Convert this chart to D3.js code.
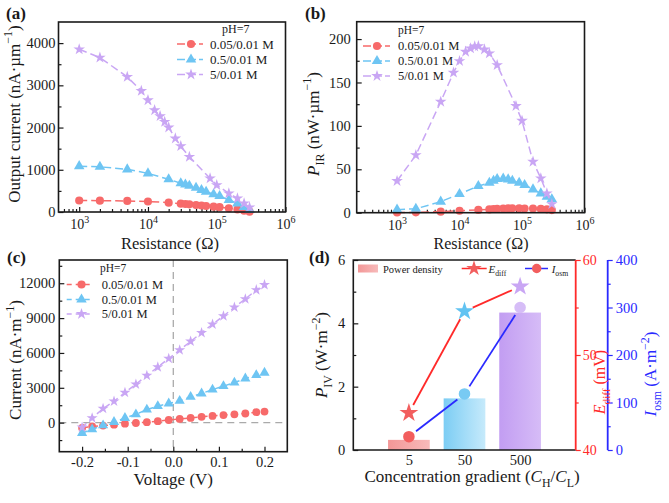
<!DOCTYPE html>
<html><head><meta charset="utf-8">
<script src="https://cdn.jsdelivr.net/npm/d3@7"></script>
<style>body{margin:0;background:#fff}svg{display:block}</style>
</head><body><svg id="chart" width="669" height="503"></svg>
<script>
// ---------------- DATA ----------------
const seriesNames = ["0.05/0.01 M", "0.5/0.01 M", "5/0.01 M"];
const seriesColors = ["#f76a6a", "#6ec5f3", "#c9a6f4"];
const seriesSymbols = ["circle", "triangle", "star"];
// panel (a) & (b): resistance (Ohm)
const resRB = [1000,2000,5000,10000,20000,30000,35000,40000,50000,60000,70000,90000,110000,150000,200000,250000,300000];
const resP  = [1000,2000,5000,8000,10000,12500,15000,17500,20000,25000,30000,40000,80000,100000,150000,200000,250000,300000];
// (a) output current nA/um
const curRed    = [272,268,262,248,222,198,190,181,167,155,142,127,115,88,62,31,8];
const curBlue   = [1085,1070,1010,915,775,680,650,620,575,520,480,420,380,285,205,120,50];
const curPurple = [3853,3657,3200,2868,2648,2411,2270,2135,2002,1742,1560,1307,797,638,442,324,206,111];
// (b) power nW/um
const powRed    = [0.2,0.4,1.2,2.3,3.2,3.8,4.2,4.5,4.8,5.0,5.0,5.0,4.9,4.7,4.4,3.9,3.0];
const powBlue   = [3.5,4.5,12.7,21.5,30.7,34.5,36.8,38.8,39.2,38.4,36.8,34.5,31.9,26.9,22.3,18.5,15.4];
const powPurple = [36.5,66.4,127.8,161.3,174.7,185.4,189.3,191.5,191.9,188,183.5,170,122.9,105.9,58.7,39.6,22.3,10];
// (c) I-V
const volt = [-0.2,-0.178,-0.154,-0.13,-0.106,-0.082,-0.058,-0.034,-0.01,0.014,0.038,0.062,0.086,0.11,0.134,0.158,0.182,0.2];
const ivRed    = [-450,-330,-250,-170,-90,-30,40,130,230,320,410,500,580,650,720,790,900,950];
const ivBlue   = [-890,-575,-230,60,400,720,1120,1420,1650,1870,2220,2510,2850,3140,3450,3800,4100,4300];
const ivPurple = [-400,403,1209,1842,2590,3309,4058,4777,5525,6245,6993,7741,8460,9180,9928,10647,11424,11856];
// (d)
const gradients = ["5", "50", "500"];
const powerDensity = [0.32, 1.63, 4.34];
const ediff = [43.9, 54.6, 57.2];
const iosm = [28, 118, 300];
const dColors = ["#f25e5e", "#62c3f2", "#c9a6f4"];
const dCircleColors = ["#f25e5e", "#78caf3", "#d6bdf7"];

// ---------------- HELPERS ----------------
const FONT = "'Liberation Serif','Times New Roman',serif";
const INK = "#1a1a1a";
const svg = d3.select("#chart");
svg.append("rect").attr("width",669).attr("height",503).attr("fill","#fff");
const defs = svg.append("defs");

function sym(type, size){
  const t = type==="circle"?d3.symbolCircle:type==="triangle"?d3.symbolTriangle:d3.symbolStar;
  return d3.symbol().type(t).size(size)();
}
function rich(textSel, parts, fs){
  let cur = 0;
  parts.forEach(p=>{
    const want = p.sub ? fs*0.3 : p.sup ? -fs*0.42 : 0;
    const ts = textSel.append("tspan").text(p.t);
    if (want !== cur) ts.attr("dy", want - cur);
    cur = want;
    if (p.sub || p.sup) ts.attr("font-size", fs*0.7);
    if (p.i) ts.attr("font-style","italic");
  });
  return textSel;
}
function label(g, x, y, parts, fs, opts={}){
  const t = g.append("text").attr("x",x).attr("y",y).attr("font-family",FONT)
    .attr("font-size",fs).attr("fill",opts.fill||INK).attr("text-anchor",opts.anchor||"middle");
  if (opts.bold) t.attr("font-weight","bold");
  if (opts.rotate) t.attr("transform",`rotate(-90,${x},${y})`);
  return rich(t, parts, fs);
}
function styleAxis(sel, color=INK, fs=14.5){
  sel.select(".domain").remove();
  sel.selectAll("line").attr("stroke",color).attr("stroke-width",1.2);
  sel.selectAll("text").attr("font-size",fs).attr("fill",color).attr("font-family",FONT);
}
function frame(g, x0,x1,y0,y1){
  g.append("rect").attr("x",x0).attr("y",y0).attr("width",x1-x0).attr("height",y1-y0)
   .attr("fill","none").attr("stroke",INK).attr("stroke-width",1.6);
}
function drawSeries(g, xs, ys, X, Y, color, symbol, size, dash){
  const line = d3.line().x((d,i)=>xs(X[i])).y(d=>ys(d));
  g.append("path").attr("d", line(Y)).attr("fill","none").attr("stroke",color)
    .attr("stroke-width",1.5).attr("stroke-dasharray",dash);
  g.selectAll(null).data(Y).enter().append("path")
    .attr("d", sym(symbol,size)).attr("fill",color)
    .attr("transform",(d,i)=>`translate(${xs(X[i])},${ys(d)})`);
}
function legend(g, x0, x1, xm, xt, rows, ph, fs, sizes, dash){
  g.append("text").attr("x",ph[0]).attr("y",ph[1]).attr("font-family",FONT).attr("font-size",fs-1)
   .attr("fill",INK).text("pH=7");
  rows.forEach((yy,i)=>{
    g.append("line").attr("x1",x0).attr("x2",x1).attr("y1",yy).attr("y2",yy)
     .attr("stroke",seriesColors[i]).attr("stroke-width",1.5).attr("stroke-dasharray",dash);
    g.append("path").attr("d",sym(seriesSymbols[i],sizes[i])).attr("fill",seriesColors[i])
     .attr("transform",`translate(${xm},${yy})`);
    g.append("text").attr("x",xt).attr("y",yy+fs*0.35).attr("font-family",FONT).attr("font-size",fs)
     .attr("fill",INK).text(seriesNames[i]);
  });
}
function logXAxis(g, xs, y1, dom){
  const majors = [1e3,1e4,1e5,1e6];
  const minors = [];
  for (let d=2; d<=5; d++) for (let k=2;k<=9;k++){ const v=k*Math.pow(10,d); if(v>dom[0]&&v<dom[1]) minors.push(v); }
  const ax = g.append("g").attr("transform",`translate(0,${y1})`)
    .call(d3.axisBottom(xs).tickValues(majors).tickSize(-5).tickPadding(7).tickFormat(()=>""));
  styleAxis(ax, INK, 14);
  ax.selectAll(".tick text").each(function(d){
    const t=d3.select(this);
    t.append("tspan").text("10");
    t.append("tspan").attr("dy",-6).attr("font-size",10).text(Math.round(Math.log10(d)));
  });
  const mi = g.append("g").attr("transform",`translate(0,${y1})`)
    .call(d3.axisBottom(xs).tickValues(minors).tickSize(-3).tickFormat(()=>""));
  styleAxis(mi);
}
function yAxisLin(g, ys, x0, majors, minors, pad, color=INK, fmt=d3.format("d")){
  const ax = g.append("g").attr("transform",`translate(${x0},0)`)
    .call(d3.axisLeft(ys).tickValues(majors).tickSize(-5).tickPadding(pad).tickFormat(fmt));
  styleAxis(ax,color);
  const mi = g.append("g").attr("transform",`translate(${x0},0)`)
    .call(d3.axisLeft(ys).tickValues(minors).tickSize(-3).tickFormat(()=>""));
  styleAxis(mi,color);
}

// ---------------- PANEL (a) ----------------
{
  const g = svg.append("g");
  const x0=58.5,x1=285.5,y0=22,y1=212;
  const xs = d3.scaleLog().domain([500,1e6]).range([x0,x1]);
  const ys = d3.scaleLinear().domain([0,4500]).range([y1,y0]);
  logXAxis(g, xs, y1, xs.domain());
  yAxisLin(g, ys, x0, d3.range(0,4001,1000), d3.range(500,4500,1000), 3);
  drawSeries(g, xs, ys, resRB, curRed, seriesColors[0], "circle", 52, "8,4");
  drawSeries(g, xs, ys, resRB, curBlue, seriesColors[1], "triangle", 48, "8,4");
  drawSeries(g, xs, ys, resP, curPurple, seriesColors[2], "star", 42, "8,4");
  frame(g,x0,x1,y0,y1);
  legend(g, 177, 203, 191, 210, [44,59.5,74.5], [222,32.5], 13, [52,48,42], "8,3");
  label(g, 19.5, 114, [{t:"Output current (nA·µm"},{t:"−1",sup:1},{t:")"}], 17, {rotate:1});
  label(g, 170, 249, [{t:"Resistance (Ω)"}], 16.5);
  label(g, 6, 19, [{t:"(a)"}], 17, {anchor:"start", bold:1});
}
// ---------------- PANEL (b) ----------------
{
  const g = svg.append("g");
  const x0=356.7,x1=584.5,y0=21.7,y1=212.7;
  const xs = d3.scaleLog().domain([226,1e6]).range([x0,x1]);
  const ys = d3.scaleLinear().domain([0,220]).range([y1,y0]);
  logXAxis(g, xs, y1, xs.domain());
  yAxisLin(g, ys, x0, d3.range(0,201,50), d3.range(25,220,50), 6);
  drawSeries(g, xs, ys, resRB, powRed, seriesColors[0], "circle", 52, "8,4");
  drawSeries(g, xs, ys, resRB, powBlue, seriesColors[1], "triangle", 48, "8,4");
  drawSeries(g, xs, ys, resP, powPurple, seriesColors[2], "star", 42, "8,4");
  frame(g,x0,x1,y0,y1);
  legend(g, 363, 390, 377, 398, [46,61,76], [398,34], 12.5, [52,48,42], "8,3");
  label(g, 318.5, 124, [{t:"P",i:1},{t:"IR",sub:1},{t:" (nW·µm"},{t:"−1",sup:1},{t:")"}], 17, {rotate:1});
  label(g, 481, 249, [{t:"Resistance (Ω)"}], 16);
  label(g, 305, 19, [{t:"(b)"}], 17, {anchor:"start", bold:1});
}
// ---------------- PANEL (c) ----------------
{
  const g = svg.append("g");
  const x0=59.3,x1=287.3,y0=260,y1=451.7;
  const xs = d3.scaleLinear().domain([-0.25,0.25]).range([x0,x1]);
  const ys = d3.scaleLinear().domain([-2500,14000]).range([y1,y0]);
  g.append("line").attr("x1",xs(0)).attr("x2",xs(0)).attr("y1",y0).attr("y2",y1)
    .attr("stroke","#aaa").attr("stroke-width",1.3).attr("stroke-dasharray","7,5");
  g.append("line").attr("x1",x0).attr("x2",x1).attr("y1",ys(0)).attr("y2",ys(0))
    .attr("stroke","#aaa").attr("stroke-width",1.3).attr("stroke-dasharray","7,5");
  const ax = g.append("g").attr("transform",`translate(0,${y1})`)
    .call(d3.axisBottom(xs).tickValues([-0.2,-0.1,0,0.1,0.2]).tickSize(-5).tickPadding(5).tickFormat(d=>d.toFixed(1)));
  styleAxis(ax);
  const axm = g.append("g").attr("transform",`translate(0,${y1})`)
    .call(d3.axisBottom(xs).tickValues([-0.15,-0.05,0.05,0.15]).tickSize(-3).tickFormat(()=>""));
  styleAxis(axm);
  yAxisLin(g, ys, x0, d3.range(0,12001,3000), d3.range(-1500,14000,3000), 4);
  drawSeries(g, xs, ys, volt, ivRed, seriesColors[0], "circle", 48, "6,4");
  drawSeries(g, xs, ys, volt, ivBlue, seriesColors[1], "triangle", 45, "6,4");
  drawSeries(g, xs, ys, volt, ivPurple, seriesColors[2], "star", 38, "6,4");
  frame(g,x0,x1,y0,y1);
  legend(g, 66.7, 90, 81.5, 101.7, [284.5,299.5,314], [100,272], 12.5, [52,48,42], "5,4");
  label(g, 21, 360, [{t:"Current (nA·m"},{t:"−1",sup:1},{t:")"}], 17, {rotate:1});
  label(g, 173.3, 485, [{t:"Voltage (V)"}], 17);
  label(g, 7, 263, [{t:"(c)"}], 17, {anchor:"start", bold:1});
}
// ---------------- PANEL (d) ----------------
{
  const g = svg.append("g");
  const x0=353.3,x1=575.7,y0=260,y1=450, xb=607.7;
  const xs = d3.scaleLinear().domain([0,4]).range([x0,x1]);
  const ys = d3.scaleLinear().domain([0,6]).range([y1,y0]);
  const yr = d3.scaleLinear().domain([40,60]).range([y1,y0]);
  const yb = d3.scaleLinear().domain([0,400]).range([y1,y0]);
  const RED="#ff2a2a", BLUE="#2a2aff";
  const grads = [["#f39797","#f7baba"],["#7ccdf4","#c6eafb"],["#c29df2","#d6bcf7"]];
  grads.forEach((c,i)=>{
    const lg = defs.append("linearGradient").attr("id","bg"+i).attr("x1","0").attr("x2","1").attr("y1","0").attr("y2","0");
    lg.append("stop").attr("offset","0").attr("stop-color",c[0]);
    lg.append("stop").attr("offset","1").attr("stop-color",c[1]);
  });
  g.selectAll(null).data(powerDensity).enter().append("rect")
    .attr("x",(d,i)=>xs(i+1-0.375)).attr("width",xs(0.75)-xs(0))
    .attr("y",d=>ys(d)).attr("height",d=>ys(0)-ys(d)).attr("fill",(d,i)=>`url(#bg${i})`);
  function gapLines(vals, sc, color){
    for (let i=0;i<vals.length-1;i++){
      const ax1=xs(i+1), ay1=sc(vals[i]), bx=xs(i+2), by=sc(vals[i+1]);
      const L=Math.hypot(bx-ax1,by-ay1), gp=9, ux=(bx-ax1)/L, uy=(by-ay1)/L;
      g.append("line").attr("x1",ax1+ux*gp).attr("y1",ay1+uy*gp).attr("x2",bx-ux*gp).attr("y2",by-uy*gp)
        .attr("stroke",color).attr("stroke-width",1.8);
    }
  }
  gapLines(ediff, yr, RED);
  gapLines(iosm, yb, BLUE);
  g.selectAll(null).data(iosm).enter().append("path").attr("d",sym("circle",105))
    .attr("fill",(d,i)=>dCircleColors[i]).attr("transform",(d,i)=>`translate(${xs(i+1)},${yb(d)})`);
  g.selectAll(null).data(ediff).enter().append("path").attr("d",sym("star",110))
    .attr("fill",(d,i)=>dColors[i]).attr("transform",(d,i)=>`translate(${xs(i+1)},${yr(d)})`);
  const axb = g.append("g").attr("transform",`translate(0,${y1})`)
    .call(d3.axisBottom(xs).tickValues([1,2,3]).tickSize(0).tickPadding(5).tickFormat((d,i)=>gradients[i]));
  styleAxis(axb);
  yAxisLin(g, ys, x0, [0,2,4,6], [1,3,5], 8);
  const ar = g.append("g").attr("transform",`translate(${x1},0)`)
    .call(d3.axisRight(yr).tickValues([40,50,60]).tickSize(5).tickPadding(2).tickFormat(d3.format("d")));
  styleAxis(ar, RED, 14);
  const arm = g.append("g").attr("transform",`translate(${x1},0)`)
    .call(d3.axisRight(yr).tickValues([45,55]).tickSize(3).tickFormat(()=>""));
  styleAxis(arm, RED);
  const ab = g.append("g").attr("transform",`translate(${xb},0)`)
    .call(d3.axisRight(yb).tickValues([0,100,200,300,400]).tickSize(5).tickPadding(3).tickFormat(d3.format("d")));
  styleAxis(ab, BLUE);
  const abm = g.append("g").attr("transform",`translate(${xb},0)`)
    .call(d3.axisRight(yb).tickValues([50,150,250,350]).tickSize(3).tickFormat(()=>""));
  styleAxis(abm, BLUE);
  g.append("line").attr("x1",xb).attr("x2",xb).attr("y1",y0).attr("y2",y1).attr("stroke",BLUE).attr("stroke-width",1.8);
  g.append("path").attr("d",`M${x1},${y0}H${x0}V${y1}H${x1}`).attr("fill","none").attr("stroke",INK).attr("stroke-width",1.6);
  g.append("line").attr("x1",x1).attr("x2",x1).attr("y1",y0).attr("y2",y1).attr("stroke",RED).attr("stroke-width",1.8);
  // legend
  g.append("rect").attr("x",358).attr("y",264.5).attr("width",20).attr("height",8).attr("fill","url(#bg0)");
  g.append("text").attr("x",383).attr("y",272.5).attr("font-family",FONT).attr("font-size",10.5).attr("fill",INK).text("Power density");
  g.append("line").attr("x1",461.7).attr("x2",486.7).attr("y1",268.5).attr("y2",268.5).attr("stroke",RED).attr("stroke-width",1.5);
  g.append("path").attr("d",sym("star",75)).attr("fill",dColors[0]).attr("transform","translate(474,268.5)");
  label(g, 488.5, 272.5, [{t:"E",i:1},{t:"diff",sub:1}], 11, {anchor:"start"});
  g.append("line").attr("x1",525).attr("x2",548).attr("y1",268.5).attr("y2",268.5).attr("stroke",BLUE).attr("stroke-width",1.5);
  g.append("path").attr("d",sym("circle",70)).attr("fill",dColors[0]).attr("transform","translate(536.7,268.5)");
  label(g, 551.7, 272.5, [{t:"I",i:1},{t:"osm",sub:1}], 11, {anchor:"start"});
  // titles
  label(g, 327, 355, [{t:"P",i:1},{t:"IV",sub:1},{t:" (W·m"},{t:"−2",sup:1},{t:")"}], 17, {rotate:1});
  label(g, 605, 382, [{t:"E",i:1},{t:"diff",sub:1},{t:" (mV)"}], 16, {rotate:1, fill:RED});
  label(g, 656, 374, [{t:"I",i:1},{t:"osm",sub:1},{t:" (A·m"},{t:"−2",sup:1},{t:")"}], 17, {rotate:1, fill:BLUE});
  label(g, 472, 482, [{t:"Concentration gradient ("},{t:"C",i:1},{t:"H",sub:1},{t:"/"},{t:"C",i:1},{t:"L",sub:1},{t:")"}], 17);
  label(g, 309, 263, [{t:"(d)"}], 17, {anchor:"start", bold:1});
}
</script>
</body></html>
